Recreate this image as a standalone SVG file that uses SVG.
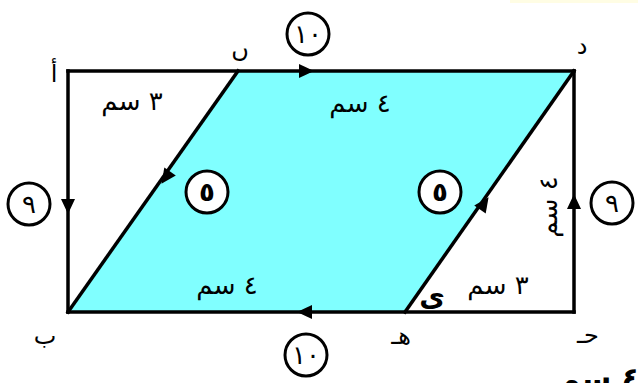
<svg xmlns="http://www.w3.org/2000/svg" width="638" height="383" viewBox="0 0 638 383">
<style>
.edge{fill:none;stroke:#000;stroke-width:3.5;stroke-linecap:square}
.ring{fill:#fff;stroke:#000;stroke-width:3}
.ring2{fill:none;stroke:#000;stroke-width:3}
.t{font-family:"DejaVu Sans",sans-serif;fill:#000}
.lbl{font-size:24px}
.num{font-size:26px;text-anchor:middle}
.dim{font-size:26px;text-anchor:middle}
</style>
<defs>
<path id="ah" d="M1,0 L-14,-7 L-14,7 Z" fill="#000"/>
</defs>
<rect x="510" y="0" width="128" height="3" fill="#FFFDE4"/>
<g id="shape">
<polygon points="238,71 574,71 405,312 68,312" fill="#80FFFF"/>
</g>
<g id="connectors">
<line class="edge" x1="68" y1="71" x2="574" y2="71"/>
<line class="edge" x1="574" y1="71" x2="574" y2="312"/>
<line class="edge" x1="574" y1="312" x2="68" y2="312"/>
<line class="edge" x1="68" y1="312" x2="68" y2="71"/>
<line class="edge" x1="238" y1="71" x2="68" y2="312"/>
<line class="edge" x1="405" y1="312" x2="574" y2="71"/>
<use href="#ah" transform="translate(313,71)"/>
<use href="#ah" transform="translate(68,213) rotate(90)"/>
<use href="#ah" transform="translate(298,312) rotate(180)"/>
<use href="#ah" transform="translate(574,195) rotate(-90)"/>
<use href="#ah" transform="translate(162,183) rotate(125.2)"/>
<use href="#ah" transform="translate(488,198) rotate(-55)"/>
</g>
<g id="vertex-a"><text class="t lbl" x="54" y="82" text-anchor="middle">أ</text></g>
<g id="vertex-n"><text class="t lbl" x="240" y="57" text-anchor="middle">ں</text></g>
<g id="vertex-d"><text class="t lbl" x="582" y="54" text-anchor="middle">د</text></g>
<g id="vertex-b"><text class="t lbl" x="45" y="344" text-anchor="middle">ب</text></g>
<g id="vertex-h"><text class="t lbl" x="401" y="344" text-anchor="middle">هـ</text></g>
<g id="vertex-j"><text class="t lbl" x="588" y="343" text-anchor="middle">حـ</text></g>
<g id="label-y"><text class="t" x="432" y="306" font-size="28" font-weight="bold" text-anchor="middle">ى</text></g>
<g id="dim-top-left"><text class="t dim" x="132" y="110">٣ سم</text></g>
<g id="dim-top"><text class="t dim" x="360" y="112">٤ سم</text></g>
<g id="dim-bottom"><text class="t dim" x="227" y="294">٤ سم</text></g>
<g id="dim-bottom-right"><text class="t dim" x="498" y="294">٣ سم</text></g>
<g id="dim-right"><text class="t dim" transform="translate(557,207) rotate(-90)">٤ سم</text></g>
<g id="circle-top"><circle class="ring2" cx="308" cy="34" r="21"/><text class="t num" x="308" y="43">١٠</text></g>
<g id="circle-bottom"><circle class="ring2" cx="306" cy="355" r="21"/><text class="t num" x="306" y="364">١٠</text></g>
<g id="circle-left"><circle class="ring2" cx="29" cy="204" r="21"/><text class="t num" x="29" y="213">٩</text></g>
<g id="circle-right"><circle class="ring2" cx="612" cy="203" r="21"/><text class="t num" x="612" y="212">٩</text></g>
<g id="circle-5a"><circle class="ring" cx="207" cy="192" r="21"/><text class="t num" x="207" y="201" font-weight="bold">٥</text></g>
<g id="circle-5b"><circle class="ring" cx="440" cy="192" r="21"/><text class="t num" x="440" y="201" font-weight="bold">٥</text></g>
<g id="cut-text"><text class="t" x="640" y="389" font-size="30" font-weight="bold" text-anchor="end">٤ سم</text></g>
</svg>
